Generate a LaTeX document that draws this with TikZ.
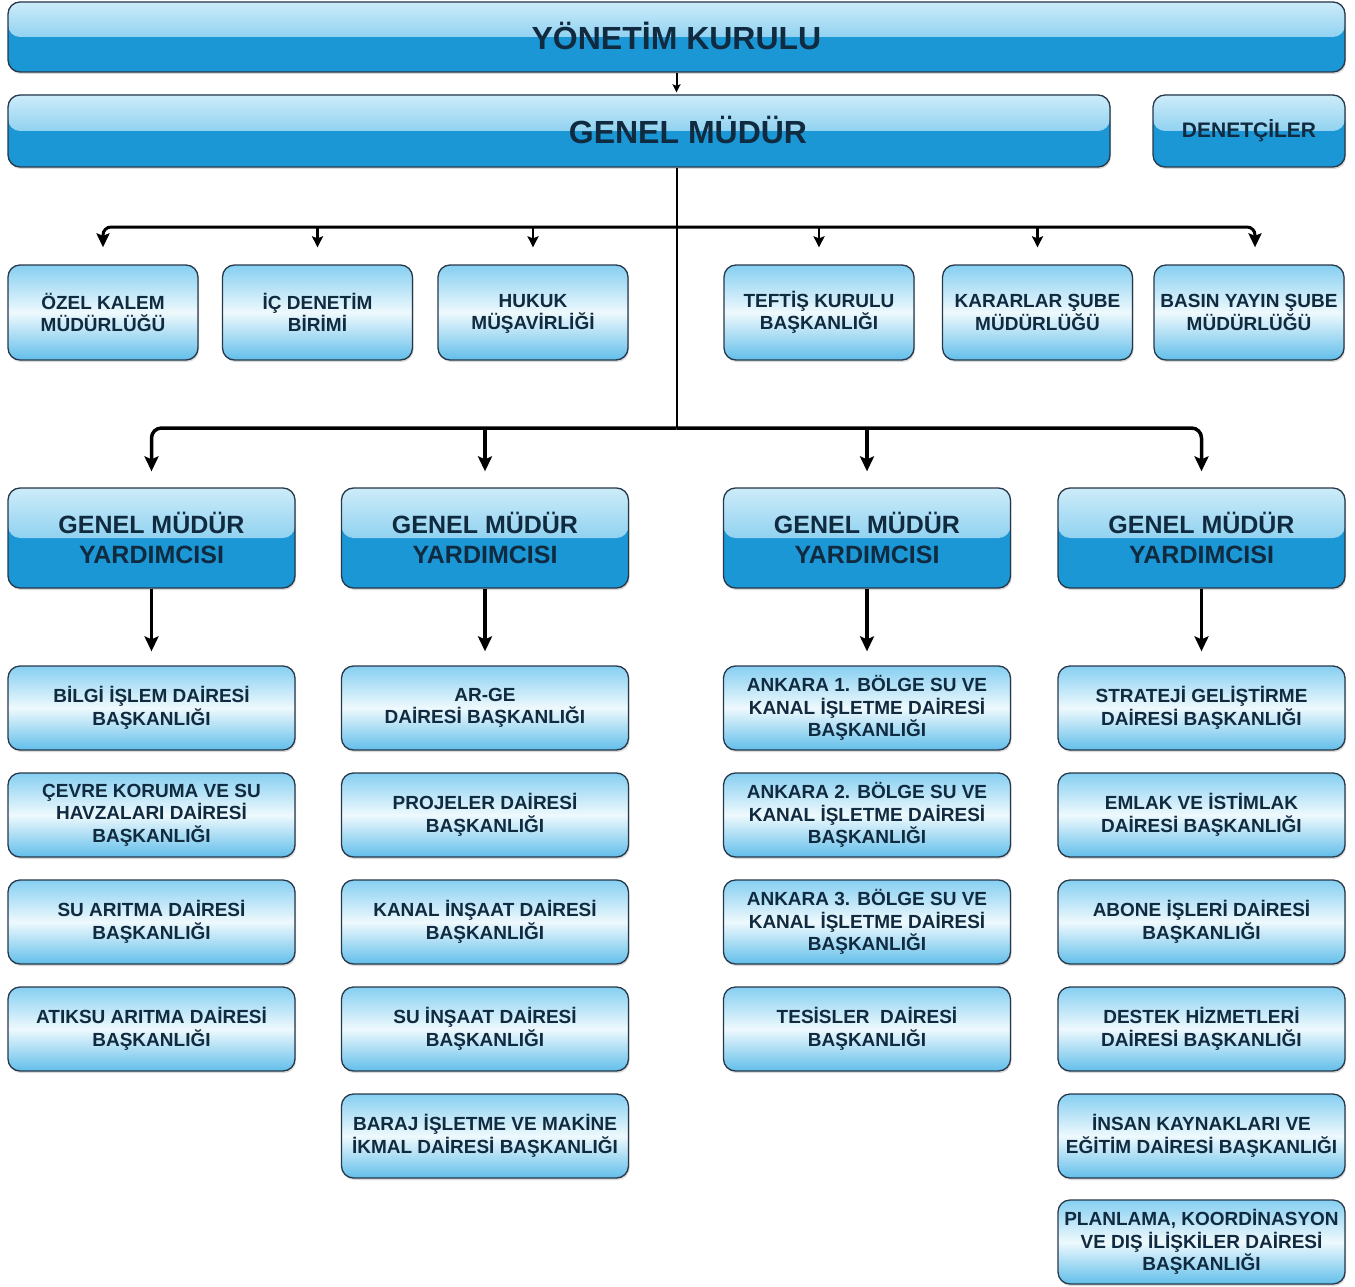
\documentclass[tikz,border=0pt]{standalone}
\usepackage{fontspec}
\setmainfont{Liberation Sans}
\usepackage{xcolor}
\usetikzlibrary{arrows.meta, calc, shadows}
\definecolor{darkboxcolor}{HTML}{1B97D6}
\definecolor{glosstopcolor}{HTML}{CDECF9}
\definecolor{glossmidcolor}{HTML}{55B8E8}
\definecolor{lighttopcolor}{HTML}{86CFF1}
\definecolor{lightmidcolor}{HTML}{EEF9FD}
\definecolor{lightbotcolor}{HTML}{62BEEA}
\definecolor{framecolor}{HTML}{26384A}
\definecolor{labelcolor}{HTML}{102A40}
\tikzset{
    basebox/.style={rectangle, rounded corners=12pt, draw=framecolor, line width=1.3pt,
        text=labelcolor, align=center, inner sep=0pt,
        drop shadow={opacity=0.3, shadow xshift=1pt, shadow yshift=-2pt}},
    headbox/.style={basebox, fill=darkboxcolor,
        path picture={\shade[top color=glosstopcolor, bottom color=glossmidcolor]
            (path picture bounding box.north west) rectangle (path picture bounding box.east);}},
    chiefbox/.style={headbox, minimum width=287pt, minimum height=100pt,
        font=\bfseries\fontsize{25}{30}\selectfont},
    unitbox/.style={basebox, top color=lighttopcolor, bottom color=lightbotcolor,
        middle color=lightmidcolor, minimum width=287pt, minimum height=84pt,
        font=\bfseries\fontsize{19}{22.5}\selectfont},
    officebox/.style={unitbox, minimum width=190pt, minimum height=95pt},
    trunkline/.style={draw=black, line width=2pt},
    smallarrow/.style={draw=black, line width=2.8pt, -{Stealth[length=11pt, width=11pt, inset=2pt]}},
    endarrow/.style={draw=black, line width=3pt, -{Stealth[length=14pt, width=13pt, inset=2.5pt]}},
    bigarrow/.style={draw=black, line width=3.5pt, -{Stealth[length=15pt, width=14pt, inset=3pt]}}
}

\begin{document}
\begin{tikzpicture}[x=1pt, y=-1pt]
    \useasboundingbox (0,0) rectangle (1355,1287);
    % top management
    \node[headbox, minimum width=1337pt, minimum height=70pt, font=\bfseries\fontsize{32}{38}\selectfont]
        at (676.5,37) (nodeYK) {\raisebox{3pt}{YÖNETİM KURULU}};
    \node[headbox, minimum width=1102pt, minimum height=72pt,
        label={[xshift=129pt, yshift=1pt, text=labelcolor, font=\bfseries\fontsize{32}{38}\selectfont]center:GENEL MÜDÜR}]
        at (559,131) (nodeGM) {};
    \node[headbox, minimum width=192pt, minimum height=72pt, font=\bfseries\fontsize{21}{25}\selectfont]
        at (1249,131) (nodeDen) {DENETÇİLER};
    %
    \coordinate (busA) at (676.5,227);
    \coordinate (busB) at (676.5,428);
    %
    \node[officebox] at (103,312.5) (nodeOzel) {ÖZEL KALEM\\MÜDÜRLÜĞÜ};
    \node[officebox] at (317.5,312.5) (nodeIcDen) {İÇ DENETİM\\BİRİMİ};
    \node[officebox] at (533,312.5) (nodeHukuk) {HUKUK\vphantom{Ü}\\MÜŞAVİRLİĞİ};
    \node[officebox] at (819,312.5) (nodeTeftis) {TEFTİŞ KURULU\\BAŞKANLIĞI};
    \node[officebox] at (1037.5,312.5) (nodeKarar) {KARARLAR ŞUBE\\MÜDÜRLÜĞÜ};
    \node[officebox] at (1249,312.5) (nodeBasin) {BASIN YAYIN ŞUBE\\MÜDÜRLÜĞÜ};
    %
    \node[chiefbox] at (151.5,538) (nodeGMY1) {GENEL MÜDÜR\\YARDIMCISI};
    \node[chiefbox] at (485,538) (nodeGMY2) {GENEL MÜDÜR\\YARDIMCISI};
    \node[chiefbox] at (867,538) (nodeGMY3) {GENEL MÜDÜR\\YARDIMCISI};
    \node[chiefbox] at (1201.5,538) (nodeGMY4) {GENEL MÜDÜR\\YARDIMCISI};
    %
    \node[unitbox] at (151.5,708) (nodeBilgi) {BİLGİ İŞLEM DAİRESİ\\BAŞKANLIĞI};
    \node[unitbox] at (151.5,815) (nodeCevre) {ÇEVRE KORUMA VE SU\\HAVZALARI DAİRESİ\\BAŞKANLIĞI};
    \node[unitbox] at (151.5,922) (nodeSuAritma) {SU ARITMA DAİRESİ\\BAŞKANLIĞI};
    \node[unitbox] at (151.5,1029) (nodeAtiksu) {ATIKSU ARITMA DAİRESİ\\BAŞKANLIĞI};
    %
    \node[unitbox] at (485,708) (nodeArge) {AR-GE\\DAİRESİ BAŞKANLIĞI};
    \node[unitbox] at (485,815) (nodeProjeler) {PROJELER DAİRESİ\\BAŞKANLIĞI};
    \node[unitbox] at (485,922) (nodeKanal) {KANAL İNŞAAT DAİRESİ\\BAŞKANLIĞI};
    \node[unitbox] at (485,1029) (nodeSuInsaat) {SU İNŞAAT DAİRESİ\\BAŞKANLIĞI};
    \node[unitbox] at (485,1136) (nodeBaraj) {BARAJ İŞLETME VE MAKİNE\\İKMAL DAİRESİ BAŞKANLIĞI};
    %
    \node[unitbox] at (867,708) (nodeAnk1) {ANKARA 1. BÖLGE SU VE\\KANAL İŞLETME DAİRESİ\\BAŞKANLIĞI};
    \node[unitbox] at (867,815) (nodeAnk2) {ANKARA 2. BÖLGE SU VE\\KANAL İŞLETME DAİRESİ\\BAŞKANLIĞI};
    \node[unitbox] at (867,922) (nodeAnk3) {ANKARA 3. BÖLGE SU VE\\KANAL İŞLETME DAİRESİ\\BAŞKANLIĞI};
    \node[unitbox] at (867,1029) (nodeTesis) {TESİSLER\ \ DAİRESİ\\BAŞKANLIĞI};
    %
    \node[unitbox] at (1201.5,708) (nodeStrateji) {STRATEJİ GELİŞTİRME\\DAİRESİ BAŞKANLIĞI};
    \node[unitbox] at (1201.5,815) (nodeEmlak) {EMLAK VE İSTİMLAK\\DAİRESİ BAŞKANLIĞI};
    \node[unitbox] at (1201.5,922) (nodeAbone) {ABONE İŞLERİ DAİRESİ\\BAŞKANLIĞI};
    \node[unitbox] at (1201.5,1029) (nodeDestek) {DESTEK HİZMETLERİ\\DAİRESİ BAŞKANLIĞI};
    \node[unitbox] at (1201.5,1136) (nodeInsan) {İNSAN KAYNAKLARI VE\\EĞİTİM DAİRESİ BAŞKANLIĞI};
    \node[unitbox] at (1201.5,1242) (nodePlan) {PLANLAMA, KOORDİNASYON\\VE DIŞ İLİŞKİLER DAİRESİ\\BAŞKANLIĞI};
    %
    \draw[draw=black, line width=2pt, -{Stealth[length=8pt, width=8pt, inset=1.5pt]}, shorten >=2pt]
        (nodeYK.south) -- (nodeYK.south |- nodeGM.north);
    \draw[trunkline] (nodeGM.south -| busA) -- (busB);
    %
    \draw[endarrow, rounded corners=8pt, shorten >=17pt] (busA) -| (nodeOzel.north);
    \draw[endarrow, rounded corners=8pt, shorten >=17pt] (busA) -| ([xshift=6pt]nodeBasin.north);
    \draw[smallarrow, shorten >=17pt] (busA -| nodeIcDen.north) -- (nodeIcDen.north);
    \draw[smallarrow, shorten >=17pt] (busA -| nodeHukuk.north) -- (nodeHukuk.north);
    \draw[smallarrow, shorten >=17pt] (busA -| nodeTeftis.north) -- (nodeTeftis.north);
    \draw[smallarrow, shorten >=17pt] (busA -| nodeKarar.north) -- (nodeKarar.north);
    %
    \draw[bigarrow, rounded corners=10pt, shorten >=16pt] (busB) -| (nodeGMY1.north);
    \draw[bigarrow, rounded corners=10pt, shorten >=16pt] (busB) -| (nodeGMY4.north);
    \draw[bigarrow, shorten >=16pt] (busB -| nodeGMY2.north) -- (nodeGMY2.north);
    \draw[bigarrow, shorten >=16pt] (busB -| nodeGMY3.north) -- (nodeGMY3.north);
    %
    \draw[bigarrow, shorten >=14pt] (nodeGMY1.south) -- (nodeBilgi.north);
    \draw[bigarrow, shorten >=14pt] (nodeGMY2.south) -- (nodeArge.north);
    \draw[bigarrow, shorten >=14pt] (nodeGMY3.south) -- (nodeAnk1.north);
    \draw[bigarrow, shorten >=14pt] (nodeGMY4.south) -- (nodeStrateji.north);
\end{tikzpicture}
\end{document}
